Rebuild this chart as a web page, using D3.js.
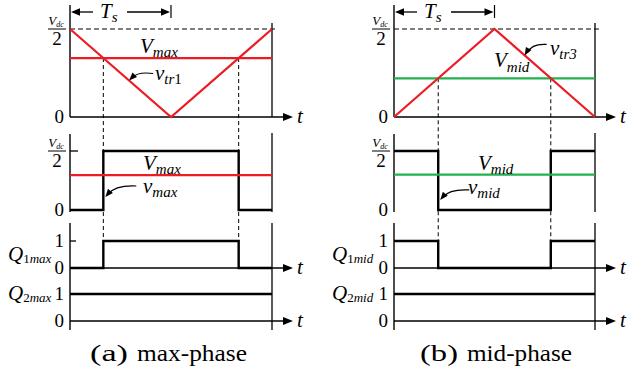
<!DOCTYPE html>
<html>
<head>
<meta charset="utf-8">
<script src="https://cdn.jsdelivr.net/npm/d3@7"></script>
<style>
  body { margin: 0; background: #fff; }
  svg { display: block; }
</style>
</head>
<body>
<svg id="fig" width="628" height="375"></svg>
<script>
// Carrier-based PWM of the max- and mid-phase legs over one carrier period (2·Ts).
// Time is in units of Ts, voltages in units of Vdc/2.
const timeKnots   = [0, 1, 2];
const carrierMax  = [1, 0, 1];          // v_tr1
const carrierMid  = [0, 1, 0];          // v_tr3
const phaseNames  = ["max", "mid"];
const carrierIdx  = ["1", "3"];
const refLevels   = [0.67, 0.44];       // V_max, V_mid against the carrier
const refOutLevels = [0.59, 0.60];      // V_max, V_mid over the pole voltage
const q2Levels    = [1, 1];             // Q2 stays on in both cases
const captionTags  = ["(a)", "(b)"];
const captionWords = ["max-phase", "mid-phase"];
const refColors   = ["#ed1c24", "#22b14c"];
const carrierColor = "#ed1c24";
const levelTicks  = ["0", "1"];

const svg = d3.select("#fig");
const SERIF = '"Liberation Serif"';

// two columns of stacked panels
const columns = [{ x0: 70, x1: 272 }, { x0: 394, x1: 595 }];
const yTop = d3.scaleLinear([0, 1], [117, 29]);
const yOut = d3.scaleLinear([0, 1], [210, 151]);
const yQ1  = d3.scaleLinear([0, 1], [268, 241]);
const yQ2  = d3.scaleLinear([0, 1], [321, 294]);

function rich(g, x, y, parts, anchor) {
  const t = g.append("text").attr("x", x).attr("y", y)
    .style("font-family", SERIF)
    .attr("text-anchor", anchor || "start").attr("fill", "#000");
  let shift = 0;
  parts.forEach(p => {
    const s = p.sub || 0;
    t.append("tspan").text(p.t)
      .style("font-family", SERIF)
      .style("font-size", p.size + "px")
      .style("font-style", p.italic ? "italic" : "normal")
      .attr("dy", s - shift);
    shift = s;
  });
  return t;
}

function head(g, x, y, ang, len, half) {
  len = len || 9; half = half || 3.6;
  const bx = x - len * Math.cos(ang), by = y - len * Math.sin(ang);
  const px = -Math.sin(ang) * half, py = Math.cos(ang) * half;
  g.append("path")
    .attr("d", `M${x},${y}L${bx + px},${by + py}L${bx - px},${by - py}Z`)
    .attr("fill", "#000");
}

function hLine(g, xa, xb, y, w, color, dash) {
  const l = g.append("line").attr("x1", xa).attr("x2", xb).attr("y1", y).attr("y2", y)
    .attr("stroke", color || "#000").attr("stroke-width", w || 1.3);
  if (dash) l.attr("stroke-dasharray", dash);
  return l;
}
function vLine(g, x, ya, yb, w, color, dash) {
  const l = g.append("line").attr("x1", x).attr("x2", x).attr("y1", ya).attr("y2", yb)
    .attr("stroke", color || "#000").attr("stroke-width", w || 1.3);
  if (dash) l.attr("stroke-dasharray", dash);
  return l;
}

function timeAxis(g, xa, xb, y) {
  hLine(g, xa, xb + 14, y, 1.3);
  head(g, xb + 21, y, 0, 10, 4);
  rich(g, xb + 25, y + 6, [{ t: "t", size: 21, italic: true }]);
}

function fraction(g, cx, barY) {
  rich(g, cx - 1, barY - 4, [{ t: "V", size: 13, italic: true }, { t: "dc", size: 8, italic: true, sub: 2 }], "middle");
  hLine(g, cx - 9, cx + 9, barY, 1);
  rich(g, cx, barY + 16, [{ t: "2", size: 19 }], "middle");
}

function curvedArrow(g, tail, tip, ctrl) {
  g.append("path")
    .attr("d", `M${tail[0]},${tail[1]}Q${ctrl[0]},${ctrl[1]} ${tip[0] + 3},${tip[1] - 3}`)
    .attr("fill", "none").attr("stroke", "#000").attr("stroke-width", 1.2);
  head(g, tip[0], tip[1], Math.atan2(tip[1] - ctrl[1], tip[0] - ctrl[0]), 8, 3.2);
}

// where the reference crosses the carrier
function crossings(carrier, ref) {
  const out = [];
  for (let k = 0; k < timeKnots.length - 1; k++) {
    const c0 = carrier[k], c1 = carrier[k + 1];
    if ((c0 - ref) * (c1 - ref) < 0) {
      out.push(timeKnots[k] + (ref - c0) / (c1 - c0) * (timeKnots[k + 1] - timeKnots[k]));
    }
  }
  return out;
}

function interp(carrier, t) {
  for (let k = 0; k < timeKnots.length - 1; k++) {
    if (t >= timeKnots[k] && t <= timeKnots[k + 1]) {
      const f = (t - timeKnots[k]) / (timeKnots[k + 1] - timeKnots[k]);
      return carrier[k] + f * (carrier[k + 1] - carrier[k]);
    }
  }
  return carrier[carrier.length - 1];
}

columns.forEach((col, i) => {
  const g = svg.append("g");
  const { x0, x1 } = col;
  const xs = d3.scaleLinear([timeKnots[0], timeKnots[timeKnots.length - 1]], [x0, x1]);
  const carrier = i === 0 ? carrierMax : carrierMid;
  const ref = refLevels[i];
  const name = phaseNames[i];
  const cuts = crossings(carrier, ref);

  // switching state: on while the reference is above the carrier
  const stateAt = t => (ref > interp(carrier, t) ? 1 : 0);
  const tEnd = timeKnots[timeKnots.length - 1];
  const pulse = [[0, stateAt(0)]];
  cuts.forEach(tc => pulse.push([tc, stateAt(tc + 1e-6)]));
  pulse.push([tEnd, stateAt(tEnd)]);

  // ---------- dashed guides from the crossings down to Q1 ----------
  cuts.forEach(tc => vLine(g, xs(tc), yTop(ref), yQ1(1), 1, "#000", "4,3"));

  // ---------- carrier panel ----------
  hLine(g, x0, x1 + 6, yTop(1), 1.2, "#000", "5,3");
  vLine(g, x0, 5, yTop(0), 1.4);
  vLine(g, x1, 23, yTop(0), 1.3);
  timeAxis(g, x0, x1, yTop(0));

  // Ts marker
  const xTs = xs(1);
  vLine(g, xTs, 5, 18, 1.2);
  hLine(g, x0 + 8, x0 + 23, 12, 1.3);
  hLine(g, x0 + 57, xTs - 8, 12, 1.3);
  head(g, x0 + 1, 12, Math.PI, 9, 3.8);
  head(g, xTs - 1, 12, 0, 9, 3.8);
  rich(g, x0 + 30, 18, [{ t: "T", size: 21, italic: true }, { t: "s", size: 15, italic: true, sub: 4 }]);

  fraction(g, x0 - 13, yTop(1));
  rich(g, x0 - 6, yTop(0) + 6, [{ t: "0", size: 19 }], "end");

  hLine(g, x0, x1, yTop(ref), 2.2, refColors[i]);
  g.append("path")
    .datum(timeKnots.map((t, k) => [t, carrier[k]]))
    .attr("d", d3.line().x(d => xs(d[0])).y(d => yTop(d[1])))
    .attr("fill", "none").attr("stroke", carrierColor).attr("stroke-width", 2.2);

  if (i === 0) {
    rich(g, x0 + 70, 53, [{ t: "V", size: 21, italic: true }, { t: name, size: 15, italic: true, sub: 4 }]);
    const tt = 0.585, tip = [xs(tt), yTop(interp(carrier, tt))];
    curvedArrow(g, [tip[0] + 24, tip[1] - 7], tip, [tip[0] + 9, tip[1] - 9]);
    rich(g, x0 + 85, 80, [{ t: "v", size: 21, italic: true }, { t: "tr", size: 15, italic: true, sub: 4 }, { t: carrierIdx[i], size: 15, sub: 4 }]);
  } else {
    rich(g, x0 + 100, 67, [{ t: "V", size: 21, italic: true }, { t: name, size: 15, italic: true, sub: 5 }]);
    const tt = 1.3, tip = [xs(tt), yTop(interp(carrier, tt))];
    curvedArrow(g, [tip[0] + 22, tip[1] - 11], tip, [tip[0] + 7, tip[1] - 12]);
    rich(g, x0 + 156, 55, [{ t: "v", size: 21, italic: true }, { t: "tr3", size: 15, italic: true, sub: 4 }]);
  }

  // ---------- pole voltage panel ----------
  vLine(g, x0, 134, 212, 1.4);
  vLine(g, x1, 133, 212, 1.3);
  hLine(g, x0, x0 + 8, yOut(1), 1.3);
  fraction(g, x0 - 13, yOut(1));
  rich(g, x0 - 6, yOut(0) + 6, [{ t: "0", size: 19 }], "end");

  g.append("path")
    .datum(pulse)
    .attr("d", d3.line().x(d => xs(d[0])).y(d => yOut(d[1])).curve(d3.curveStepAfter))
    .attr("fill", "none").attr("stroke", "#000").attr("stroke-width", 2.4);
  hLine(g, x0, x1, yOut(refOutLevels[i]), 2.2, refColors[i]);

  const edge = xs(cuts[0]);
  if (i === 0) {
    rich(g, x0 + 73, 170, [{ t: "V", size: 21, italic: true }, { t: name, size: 15, italic: true, sub: 4 }]);
    rich(g, x0 + 73, 193, [{ t: "v", size: 21, italic: true }, { t: name, size: 15, italic: true, sub: 4 }]);
    const tip = [edge + 2, yOut(0.22)];
    curvedArrow(g, [tip[0] + 31, tip[1] - 11], tip, [tip[0] + 10, tip[1] - 12]);
  } else {
    rich(g, x0 + 84, 170, [{ t: "V", size: 21, italic: true }, { t: name, size: 15, italic: true, sub: 4 }]);
    rich(g, x0 + 74, 194, [{ t: "v", size: 21, italic: true }, { t: name, size: 15, italic: true, sub: 4 }]);
    const tip = [edge + 2, yOut(0.17)];
    curvedArrow(g, [tip[0] + 29, tip[1] - 10], tip, [tip[0] + 9, tip[1] - 11]);
  }

  // ---------- gate signals ----------
  vLine(g, x0, 223, 330, 1.4);
  vLine(g, x1, 223, 330, 1.3);
  timeAxis(g, x0, x1, yQ1(0));
  timeAxis(g, x0, x1, yQ2(0));
  hLine(g, x0, x0 + 6, yQ1(1), 1.3);

  g.append("path")
    .datum(pulse)
    .attr("d", d3.line().x(d => xs(d[0])).y(d => yQ1(d[1])).curve(d3.curveStepAfter))
    .attr("fill", "none").attr("stroke", "#000").attr("stroke-width", 2.4);
  hLine(g, x0, x1, yQ2(q2Levels[i]), 2.4);

  [yQ1, yQ2].forEach(ys => {
    levelTicks.forEach((lab, v) => rich(g, x0 - 6, ys(v) + 6, [{ t: lab, size: 19 }], "end"));
  });
  const qx = i === 0 ? 8 : 332;
  rich(g, qx, 261, [{ t: "Q", size: 21, italic: true }, { t: "1", size: 13, sub: 2 }, { t: name, size: 13, italic: true, sub: 2 }]);
  rich(g, qx, 300, [{ t: "Q", size: 21, italic: true }, { t: "2", size: 13, sub: 2 }, { t: name, size: 13, italic: true, sub: 2 }]);

  // ---------- caption ----------
  const capX = i === 0 ? 90 : 420;
  g.append("text").attr("x", capX).attr("y", 361)
    .style("font-family", SERIF).style("font-size", "24px")
    .attr("textLength", 38).attr("lengthAdjust", "spacingAndGlyphs")
    .text(captionTags[i]);
  g.append("text").attr("x", capX + 47).attr("y", 361)
    .style("font-family", SERIF).style("font-size", "24px")
    .attr("textLength", i === 0 ? 110 : 105).attr("lengthAdjust", "spacingAndGlyphs")
    .text(captionWords[i]);
});
</script>
</body>
</html>
